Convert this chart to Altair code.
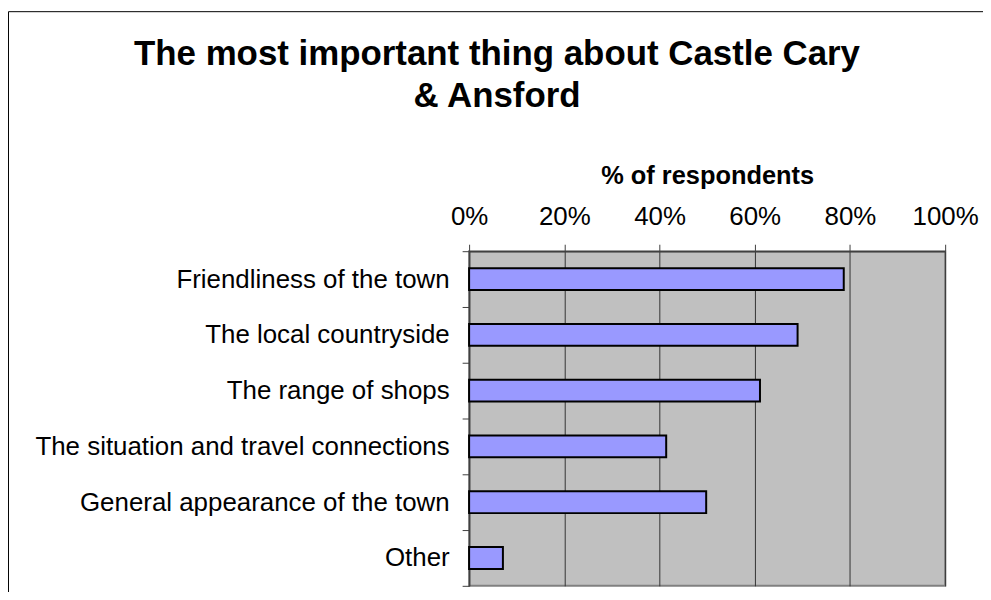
import altair as alt
import pandas as pd

categories = [
    "Friendliness of the town",
    "The local countryside",
    "The range of shops",
    "The situation and travel connections",
    "General appearance of the town",
    "Other",
]
percent = [78.7, 69.0, 61.1, 41.4, 49.8, 7.1]
tick_values = [0, 20, 40, 60, 80, 100]
title_lines = ["The most important thing about Castle Cary", "& Ansford"]
x_title = "% of respondents"

df = pd.DataFrame({"category": categories, "percent": percent})
one_row = pd.DataFrame({"f": [0]})

FONT = "Liberation Sans"

bars = alt.Chart(df).mark_bar(
    size=22, fill="#9999FF", stroke="black", strokeWidth=2
).encode(
    x=alt.X(
        "percent:Q",
        scale=alt.Scale(domain=[0, 100], nice=False),
        axis=alt.Axis(
            orient="top",
            values=tick_values,
            labelExpr="datum.value + '%'",
            title=x_title,
            titleFont=FONT,
            titleFontSize=25.5,
            titleFontWeight="bold",
            titleColor="black",
            titlePadding=15,
            labelFont=FONT,
            labelFontSize=26,
            labelColor="black",
            labelBaseline="alphabetic",
            labelPadding=20,
            tickSize=7,
            tickColor="#404040",
            domainColor="#404040",
            domainWidth=1.5,
            grid=True,
            gridColor="#333333",
            gridWidth=1,
            labelFlush=False,
        ),
    ),
    y=alt.Y(
        "category:N",
        sort=categories,
        scale=alt.Scale(paddingInner=0, paddingOuter=0),
        axis=alt.Axis(
            title=None,
            labelFont=FONT,
            labelFontSize=26,
            labelColor="black",
            labelPadding=13,
            tickSize=7,
            tickColor="#404040",
            tickBand="extent",
            domainColor="#404040",
            domainWidth=1.5,
            grid=False,
            labelLimit=600,
        ),
    ),
)

title_text = alt.Chart(one_row).mark_text(
    text=title_lines,
    font=FONT,
    fontSize=35,
    fontWeight="bold",
    color="black",
    align="center",
    baseline="alphabetic",
    lineHeight=42,
).encode(
    x=alt.value(28),
    y=alt.value(-187),
)

frame = alt.Chart(one_row).mark_rect(
    fillOpacity=0, stroke="black", strokeWidth=1
).encode(
    x=alt.value(-462.5),
    x2=alt.value(700),
    y=alt.value(-240.5),
    y2=alt.value(600),
)

chart = alt.layer(bars, title_text, frame).properties(
    width=478,
    height=336,
    padding={"left": 463, "top": 243, "right": 38, "bottom": 5},
    autosize=alt.AutoSizeParams(type="none"),
).configure(
    background="white",
    view=alt.ViewConfig(fill="#C0C0C0", stroke="#808080", strokeWidth=2),
)

chart.save("out.html", embed_options={"renderer": "svg", "actions": False})
